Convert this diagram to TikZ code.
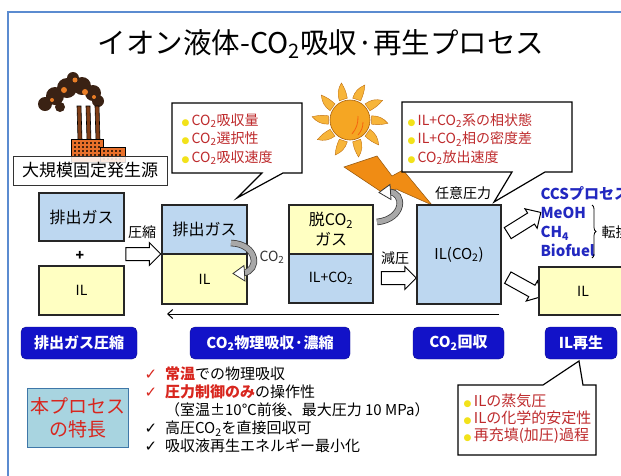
\documentclass[tikz,border=0pt]{standalone}
\usepackage{fontspec}
\setmainfont{Noto Sans CJK JP}
\newfontfamily\symfont{DejaVu Sans}
\usetikzlibrary{arrows.meta,shapes.arrows,decorations.pathreplacing}

\definecolor{gasBlue}{HTML}{BDD7F0}
\definecolor{ilYellow}{HTML}{FFFFC2}
\definecolor{tagBlue}{HTML}{1212C8}
\definecolor{frameBlue}{HTML}{5B8BD0}
\definecolor{noteRed}{HTML}{BE2A2C}
\definecolor{keyRed}{HTML}{D8261E}
\definecolor{dotYellow}{HTML}{F2E21A}
\definecolor{prodBlue}{HTML}{2228C0}
\definecolor{featTeal}{HTML}{A8D4E0}
\definecolor{featEdge}{HTML}{3F77A8}
\definecolor{sunOrange}{HTML}{F5A623}
\definecolor{rayOrange}{HTML}{F7B53A}
\definecolor{boltOrange}{HTML}{F08C14}
\definecolor{smoke}{HTML}{3A2214}
\definecolor{brick}{HTML}{E8702A}
\definecolor{bandGray}{HTML}{A8A8A8}

\newcommand{\cotwo}{CO\textsubscript{2}}
\newcommand{\ydot}{\textcolor{dotYellow}{\symfont\fontsize{9}{9}\selectfont ●}\,}
\newcommand{\chk}[1]{\textcolor{#1}{\symfont ✓}\hspace{8pt}}

\tikzset{box/.style={draw=black!85, line width=1.1pt, minimum width=85pt,
  inner sep=0pt, align=center, font=\fontsize{16}{20}\selectfont}}
\tikzset{gas/.style={box, fill=gasBlue}}
\tikzset{liq/.style={box, fill=ilYellow}}
\tikzset{tag/.style={rounded corners=5pt, fill=tagBlue, draw=tagBlue!70!black,
  text=white, minimum height=32pt, inner sep=0pt,
  font=\bfseries\fontsize{15}{17}\selectfont}}
\tikzset{harrow/.style={single arrow, draw, fill=white, line width=1pt,
  minimum height=35pt, single arrow head extend=5pt, inner sep=6pt}}
\tikzset{note/.style={draw=black, fill=white, line width=1.2pt}}
\tikzset{notetxt/.style={anchor=west, align=left, text=noteRed,
  font=\fontsize{14}{18.5}\selectfont}}
\tikzset{band/.style={line width=5pt, bandGray, preaction={draw, black!75, line width=6.6pt}}}
\tikzset{bandhead/.style={fill=white, draw=black!80, line width=.8pt, line join=miter}}
\tikzset{ret/.style={draw, line width=1pt, -{Straight Barb[length=5pt, width=9pt]}}}

\begin{document}
\begin{tikzpicture}[x=1pt,y=-1pt]
        \useasboundingbox (0,0) rectangle (621,475);
        %% frame and title
        \draw[frameBlue, line width=1.6pt] (8,495) -- (8,12) -- (640,12);
        \node (title) at (321,44) [font=\fontsize{28.5}{30}\selectfont] {イオン液体-\cotwo 吸収·再生プロセス};
        %% factory
        \begin{scope}
            \fill[smoke] (45,104) circle (7) (55,96) circle (9) (67,88) circle (10)
                (73,78) circle (6) (82,86) circle (9) (93,93) circle (8)
                (98,101) circle (6) (60,107) circle (5);
            \fill[brick!90!yellow] (64,90) circle (3) (75,80) circle (2.5) (85,92) circle (3)
                (52,100) circle (2) (94,97) circle (2);
            \foreach \cx in {79,88,97}
                \filldraw[fill=brick!55!black, draw=black, line width=.6pt]
                    (\cx-2,106) -- (\cx+2,106) -- (\cx+3,140) -- (\cx-1,140) -- cycle;
            \filldraw[fill=brick, draw=black, line width=.6pt] (71,139) rectangle (103,162);
            \filldraw[fill=brick, draw=black, line width=.6pt] (100,147) rectangle (125,162);
            \foreach \i in {0,...,6}
                \foreach \j in {0,...,3}
                    \fill[brick!30!black] (74+\i*4,142+\j*4) rectangle ++(2,2);
            \foreach \i in {0,...,4}
                \foreach \j in {0,...,2}
                    \fill[brick!30!black] (103+\i*4,150+\j*4) rectangle ++(2,2);
        \end{scope}
        \node (src) at (90,170.5) [draw=black!80, line width=1pt, fill=white, fill opacity=.85,
            text opacity=1, minimum width=154pt, minimum height=29pt, inner sep=0pt,
            font=\fontsize{17}{20}\selectfont] {大規模固定発生源};
        %% sun and bolt
        \begin{scope}[shift={(350,120)}]
            \foreach \a in {0,36,...,324}
                \filldraw[fill=rayOrange, draw=boltOrange!80!black, line width=.4pt]
                    (\a-11:22) to[bend left=25] (\a+5:38) to[bend left=10] (\a+11:22) -- cycle;
            \filldraw[fill=sunOrange, draw=boltOrange!70!black, line width=.6pt] (0,0) circle (20);
            \draw[boltOrange!70!red, line width=.8pt] (8,-4) to[bend left=20] (2,14);
            \draw[boltOrange!70!red, line width=.8pt] (13,2) to[bend left=20] (8,15);
        \end{scope}
        \filldraw[fill=boltOrange, draw=boltOrange!60!black, line width=.5pt]
            (344,167) -- (377,156) -- (392,176) -- (403,170) -- (432,205)
            -- (396,189) -- (386,195) -- cycle;
        %% flue gas + IL
        \node (gasA) at (81.5,217) [gas, minimum height=48pt] {排出ガス};
        \node (plus) at (80,256) [font=\bfseries\fontsize{14}{14}\selectfont] {+};
        \node (ilA) at (81.5,290.5) [liq, minimum height=49pt, font=\fontsize{14}{16}\selectfont] {IL};
        \node (cmp) at (140,254) [harrow] {};
        \node (cmpL) at (142,232) [font=\fontsize{14}{16}\selectfont] {圧縮};
        %% absorber
        \node (absG) at (204.5,229.5) [gas, minimum height=49pt] {排出ガス};
        \node (absL) at (204.5,279) [liq, minimum height=50pt, font=\fontsize{14}{16}\selectfont] {IL};
        \draw[band] (231,243) .. controls (258,244) and (260,271) .. (243,273);
        \filldraw[bandhead] (244,265.5) -- (233,273.5) -- (245,281) -- cycle;
        \node (absC) at (272,257) [text=black!80, font=\fontsize{14}{16}\selectfont] {\cotwo};
        %% desorber
        \node (desG) at (331,229.5) [liq, minimum width=84pt, minimum height=49pt,
            font=\fontsize{16}{20}\selectfont] {脱\cotwo\\ガス};
        \node (desL) at (331,278.5) [gas, minimum width=84pt, minimum height=49pt,
            font=\fontsize{14}{16}\selectfont] {IL+\cotwo};
        \draw[band] (377,222) .. controls (405,219) and (405,192) .. (389,192);
        \filldraw[bandhead] (390,184.5) -- (379,192.5) -- (391,199.5) -- cycle;
        \node (dep) at (395.5,278) [harrow] {};
        \node (depL) at (395,258) [font=\fontsize{14}{16}\selectfont] {減圧};
        %% recovery
        \node (rec) at (459,254.5) [gas, minimum width=84pt, minimum height=99pt,
            font=\fontsize{15}{18}\selectfont] {IL(\cotwo)};
        \node (recL) at (463,193) [font=\fontsize{14}{16}\selectfont] {任意圧力};
        \node (upA) at (521.5,224.5) [harrow, rotate=32, minimum height=39pt] {};
        \node (dnA) at (522,285.5) [harrow, rotate=-29, minimum height=39pt] {};
        \node (prod) at (537,221.5) [anchor=west, align=left, text=prodBlue,
            font=\bfseries\fontsize{15}{19}\selectfont] {CCSプロセス\\MeOH\\CH\textsubscript{4}\\Biofuel};
        \draw[decorate, decoration={brace, amplitude=4pt}, line width=.8pt] (592,205) -- (592,258);
        \node (conv) at (598,232) [anchor=west, font=\fontsize{14}{16}\selectfont] {転換};
        \node (ilR) at (583,291) [liq, minimum width=88pt, minimum height=48pt,
            font=\fontsize{14}{16}\selectfont] {IL};
        %% return line
        \coordinate (retR) at (499,314);
        \coordinate (retL) at (167,314);
        \draw[ret] (retR) -- (retL);
        %% stage tags
        \node (tg1) at (79,343) [tag, minimum width=116pt] {排出ガス圧縮};
        \node (tg2) at (270,343) [tag, minimum width=160pt] {\cotwo 物理吸収·濃縮};
        \node (tg3) at (458.5,343) [tag, minimum width=91pt] {\cotwo 回収};
        \node (tg4) at (581,343) [tag, minimum width=72pt] {IL再生};
        %% callouts
        \draw[note] (172,103) -- (302,103) -- (302,173) -- (283,173) -- (237,198)
            -- (262,173) -- (172,173) -- cycle;
        \node (n1) at (178,139) [notetxt] {\ydot\cotwo 吸収量\\\ydot\cotwo 選択性\\\ydot\cotwo 吸収速度};
        \draw[note] (402,102) -- (572,102) -- (572,172) -- (545,172) -- (494,202)
            -- (512,172) -- (402,172) -- cycle;
        \node (n2) at (404,139) [notetxt] {\ydot IL+\cotwo 系の相状態\\\ydot IL+\cotwo 相の密度差\\\ydot\cotwo 放出速度};
        \draw[note] (458,385) -- (543,385) -- (579,361) -- (583,385) -- (596,385)
            -- (596,455) -- (458,455) -- cycle;
        \node (n3) at (460,419) [notetxt, font=\fontsize{15}{17}\selectfont] {\ydot ILの蒸気圧\\\ydot ILの化学的安定性\\\ydot 再充填(加圧)過程};
        %% features
        \node (feat) at (77.5,417.5) [draw=featEdge, line width=1pt, fill=featTeal,
            minimum width=101pt, minimum height=59pt, inner sep=0pt, align=center,
            text=keyRed, font=\fontsize{19}{23}\selectfont] {本プロセス\\の特長};
        \node (list) at (141,410) [anchor=west, align=left,
            font=\fontsize{15}{18}\selectfont] {\chk{keyRed}\textcolor{keyRed}{\bfseries 常温}での物理吸収\\
            \chk{keyRed}\textcolor{keyRed}{\bfseries 圧力制御のみ}の操作性\\
            \phantom{\chk{black}}（室温±10℃前後、最大圧力 10 MPa）\\
            \chk{black}高圧\cotwo を直接回収可\\
            \chk{black}吸収液再生エネルギー最小化};
    \end{tikzpicture}
\end{document}
